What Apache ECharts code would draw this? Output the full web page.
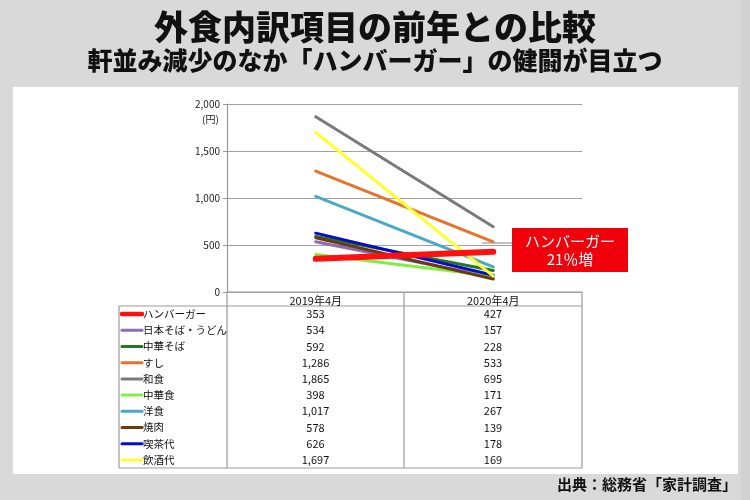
<!DOCTYPE html>
<html><head><meta charset="utf-8">
<script src="https://cdn.jsdelivr.net/npm/echarts@6/dist/echarts.min.js"></script>
<style>html,body{margin:0;padding:0;background:#d9d9d9;}#c{width:750px;height:500px;}</style>
</head><body><div id="c"></div>
<script>
var categories = ['2019年4月', '2020年4月'];
var seriesNames = ['ハンバーガー','日本そば・うどん','中華そば','すし','和食','中華食','洋食','焼肉','喫茶代','飲酒代'];
var values2019 = [353, 534, 592, 1286, 1865, 398, 1017, 578, 626, 1697];
var values2020 = [427, 157, 228, 533, 695, 171, 267, 139, 178, 169];
var lineColors = ['#ff1010','#8e6bb8','#1d7a1d','#e8722a','#7a7a7a','#80f040','#4aaac4','#6b3a12','#0a0acc','#ffff30'];
var yTicks = [0, 500, 1000, 1500, 2000];

var FONT = '"Noto Sans CJK JP", "Noto Sans", sans-serif';
var chart = echarts.init(document.getElementById('c'));

var gridL = 227, gridR = 582, gridT = 104, gridB = 292;
var colMid = 404, tableL = 119, rowTop = 306, rowH = 16.2;

function fmt(n){ return n.toString().replace(/\B(?=(\d{3})+(?!\d))/g, ','); }

var graphics = [
  {type:'rect', shape:{x:13, y:87, width:725, height:387}, style:{fill:'#ffffff'}, z:-10},
  {type:'rect', shape:{x:741, y:0, width:9, height:500}, style:{fill:'#d2d2d2'}, z:-10},
  {type:'text', left:'center', top:10, style:{text:'外食内訳項目の前年との比較', font:'900 34px ' + FONT, fill:'#111'}},
  {type:'text', left:'center', top:48, style:{text:'軒並み減少のなか「ハンバーガー」の健闘が目立つ', font:'900 25px ' + FONT, fill:'#111'}},
  {type:'text', right:13, top:477, style:{text:'出典：総務省「家計調査」', font:'bold 15px ' + FONT, fill:'#111'}},
  {type:'text', x:202, y:114, style:{text:'(円)', font:'10px ' + FONT, fill:'#222'}},
  {type:'line', shape:{x1:482, y1:243, x2:512, y2:243}, style:{stroke:'#9a9a9a', lineWidth:1.2}, z:5},
  {type:'rect', shape:{x:512, y:228, width:116, height:44}, style:{fill:'#f0000a'}, z:6},
  {type:'text', x:570, y:250, style:{text:'ハンバーガー\n21％増', font:'15px ' + FONT, fill:'#ffffff', align:'center', verticalAlign:'middle', lineHeight:18}, z:7},
  {type:'line', shape:{x1:gridL, y1:gridB, x2:gridR, y2:gridB}, style:{stroke:'#999', lineWidth:1.2}},
  {type:'line', shape:{x1:gridL, y1:rowTop, x2:gridR, y2:rowTop}, style:{stroke:'#999', lineWidth:1.2}},
  {type:'line', shape:{x1:tableL, y1:rowTop, x2:gridL, y2:rowTop}, style:{stroke:'#999', lineWidth:1.2}},
  {type:'line', shape:{x1:tableL, y1:rowTop + rowH*10, x2:gridR, y2:rowTop + rowH*10}, style:{stroke:'#999', lineWidth:1.2}},
  {type:'line', shape:{x1:tableL, y1:rowTop, x2:tableL, y2:rowTop + rowH*10}, style:{stroke:'#999', lineWidth:1.2}},
  {type:'line', shape:{x1:gridL, y1:gridB, x2:gridL, y2:rowTop + rowH*10}, style:{stroke:'#999', lineWidth:1.2}},
  {type:'line', shape:{x1:colMid, y1:gridB, x2:colMid, y2:rowTop + rowH*10}, style:{stroke:'#999', lineWidth:1.2}},
  {type:'line', shape:{x1:gridR, y1:gridB, x2:gridR, y2:rowTop + rowH*10}, style:{stroke:'#999', lineWidth:1.2}}
];

seriesNames.forEach(function(name, i){
  var cy = rowTop + rowH*i + rowH/2;
  graphics.push({type:'line', shape:{x1:tableL+3, y1:cy, x2:tableL+23, y2:cy}, style:{stroke:lineColors[i], lineWidth: i===0 ? 4.5 : 3, lineCap:'round'}});
  graphics.push({type:'text', x:tableL+24, y:cy, style:{text:name, font:'10.5px ' + FONT, fill:'#111', verticalAlign:'middle'}});
  graphics.push({type:'text', x:(gridL+colMid)/2, y:cy, style:{text:fmt(values2019[i]), font:'11px ' + FONT, fill:'#111', align:'center', verticalAlign:'middle'}});
  graphics.push({type:'text', x:(colMid+gridR)/2, y:cy, style:{text:fmt(values2020[i]), font:'11px ' + FONT, fill:'#111', align:'center', verticalAlign:'middle'}});
});

var series = seriesNames.map(function(name, i){
  return {
    name: name, type:'line', data:[values2019[i], values2020[i]],
    symbol:'none', animation:false,
    z: i===0 ? 3 : 2,
    lineStyle:{color:lineColors[i], width: i===0 ? 6 : 3, cap:'round'},
    itemStyle:{color:lineColors[i]}
  };
});

chart.setOption({
  animation:false,
  backgroundColor:'#d9d9d9',
  grid:{left:gridL, right:750-gridR, top:gridT, bottom:500-gridB, containLabel:false},
  xAxis:{type:'category', data:categories, boundaryGap:true,
    axisLine:{show:false}, axisTick:{show:false},
    axisLabel:{margin:3, fontSize:11, color:'#111', fontFamily:FONT}},
  yAxis:{type:'value', min:0, max:2000, interval:500,
    axisLine:{show:true, lineStyle:{color:'#999', width:1.2}},
    axisTick:{show:true, inside:false, length:4, lineStyle:{color:'#999'}},
    axisLabel:{margin:7, fontSize:10, color:'#222', fontFamily:FONT, formatter:function(v){ return fmt(v); }},
    splitLine:{show:true, lineStyle:{color:'#a0a0a0', width:1.2}}},
  series: series,
  graphic: graphics
});
</script></body></html>
